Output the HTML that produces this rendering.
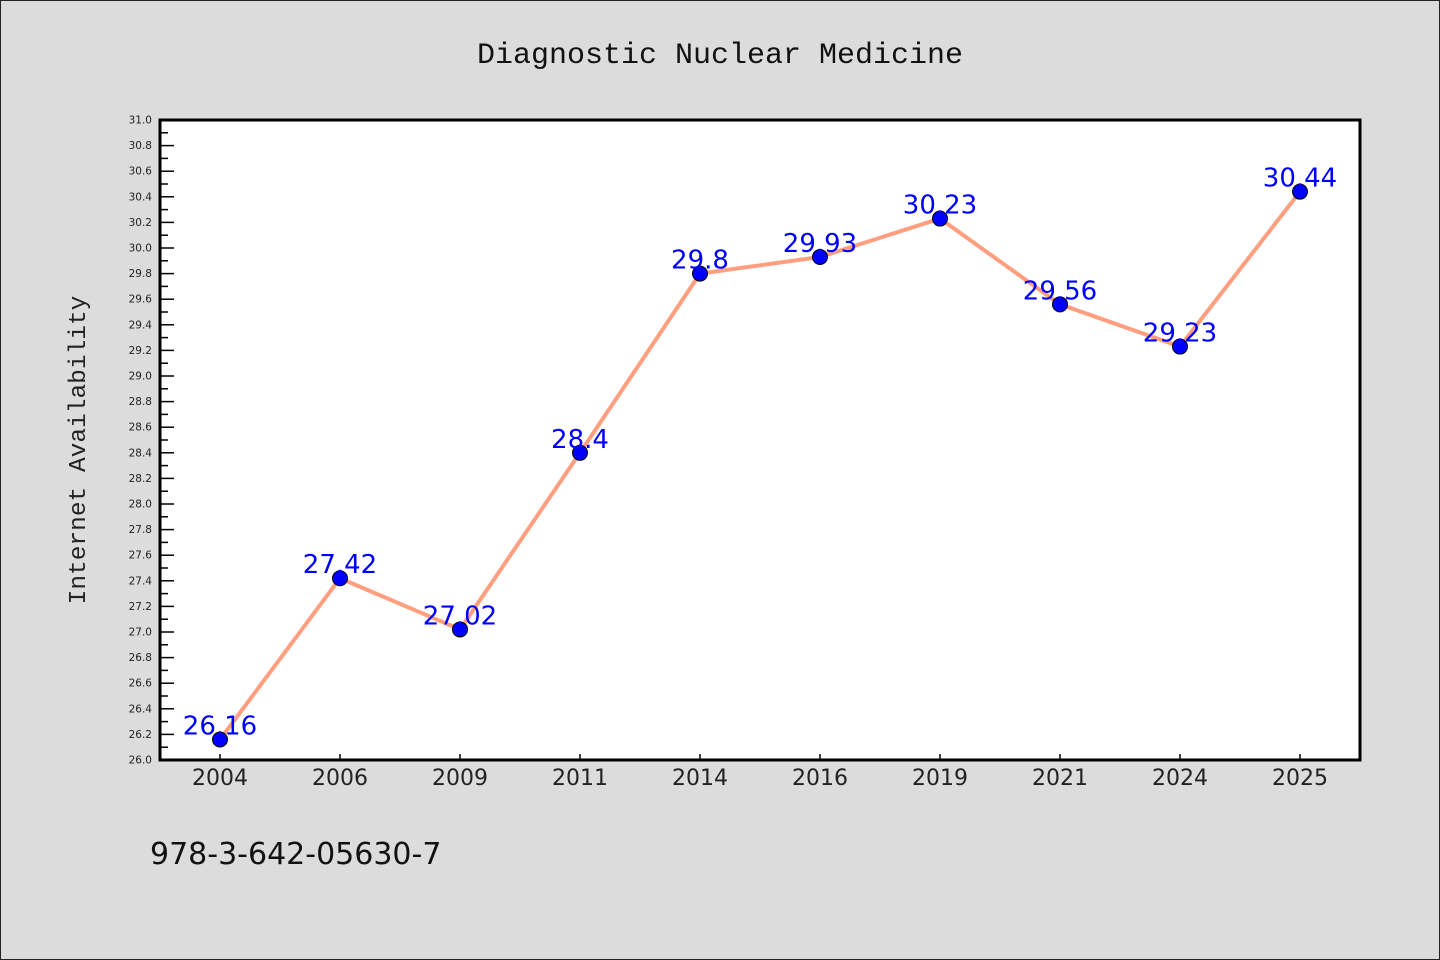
<!DOCTYPE html>
<html><head><meta charset="utf-8"><style>
html,body{margin:0;padding:0;background:#dcdcdc;}
svg{display:block;}
</style></head><body>
<svg width="1440" height="960" xmlns="http://www.w3.org/2000/svg">
<rect x="0.5" y="0.5" width="1439" height="959" fill="#dcdcdc" stroke="#222"/>
<text x="720" y="63" text-anchor="middle" font-family="Liberation Mono, monospace" font-size="30" fill="#111">Diagnostic Nuclear Medicine</text>
<rect x="160" y="120" width="1200" height="640" fill="#fff"/>
<g id="yaxis"></g>
<g id="xaxis"></g>
<g id="series"></g>
<rect x="160" y="120" width="1200" height="640" fill="none" stroke="#000" stroke-width="3"/>
<text transform="translate(85,450) rotate(-90)" text-anchor="middle" font-family="Liberation Mono, monospace" font-size="24.5" fill="#222">Internet Availability</text>
<text x="150" y="864" font-family="DejaVu Sans, Liberation Sans, sans-serif" font-size="30" fill="#111">978-3-642-05630-7</text>
<script>
const categories = ["2004","2006","2009","2011","2014","2016","2019","2021","2024","2025"];
const values = [26.16,27.42,27.02,28.4,29.8,29.93,30.23,29.56,29.23,30.44];
const yMin = 26.0, yMax = 31.0;
const NS = "http://www.w3.org/2000/svg";
const L=160,R=1360,T=120,B=760;
function yScale(v){return B-(v-yMin)/(yMax-yMin)*(B-T);}
function xScale(i){return L+(R-L)/categories.length*(i+0.5);}
function mk(tag,attrs,parent){const e=document.createElementNS(NS,tag);for(const k in attrs)e.setAttribute(k,attrs[k]);parent.appendChild(e);return e;}
const ya=document.getElementById('yaxis');
for(let k=0;k<=50;k++){
  const v=yMin+k*0.1, y=yScale(v), major=k%2===0;
  const t=mk('line',{x1:L,x2:L+(major?14:8),y1:y,y2:y,stroke:'#000','stroke-width':1.5},ya);
  
  
  if(major){
    const lb=mk('text',{x:L-8,y:y+3.5,'text-anchor':'end','font-family':'DejaVu Sans, Liberation Sans, sans-serif','font-size':10.5,fill:'#222'},ya);
    lb.textContent=v.toFixed(1);
    
    
  }
}
const xa=document.getElementById('xaxis');
categories.forEach((c,i)=>{
  const x=xScale(i);
  const t=mk('line',{x1:x,x2:x,y1:B,y2:B-6,stroke:'#000','stroke-width':1.5},xa);
  
  
  const lb=mk('text',{x:x,y:B+25,'text-anchor':'middle','font-family':'DejaVu Sans, Liberation Sans, sans-serif','font-size':22,fill:'#222'},xa);
  lb.textContent=c;
  
  
});
const s=document.getElementById('series');
const pts=values.map((v,i)=>xScale(i)+','+yScale(v)).join(' ');
const line=mk('polyline',{points:pts,fill:'none',stroke:'#ff9f7f','stroke-width':4,'stroke-linejoin':'round'},s);


values.forEach((v,i)=>{
  const c=mk('circle',{cx:xScale(i),cy:yScale(v),r:7.5,fill:'#0000ff',stroke:'#000','stroke-width':1},s);
  
  
});
values.forEach((v,i)=>{
  const t=mk('text',{x:xScale(i),y:yScale(v)-5,'text-anchor':'middle','font-family':'DejaVu Sans, Liberation Sans, sans-serif','font-size':26,fill:'#0000ff'},s);
  t.textContent=String(v);
  
  
});
</script>
</svg>
</body></html>
